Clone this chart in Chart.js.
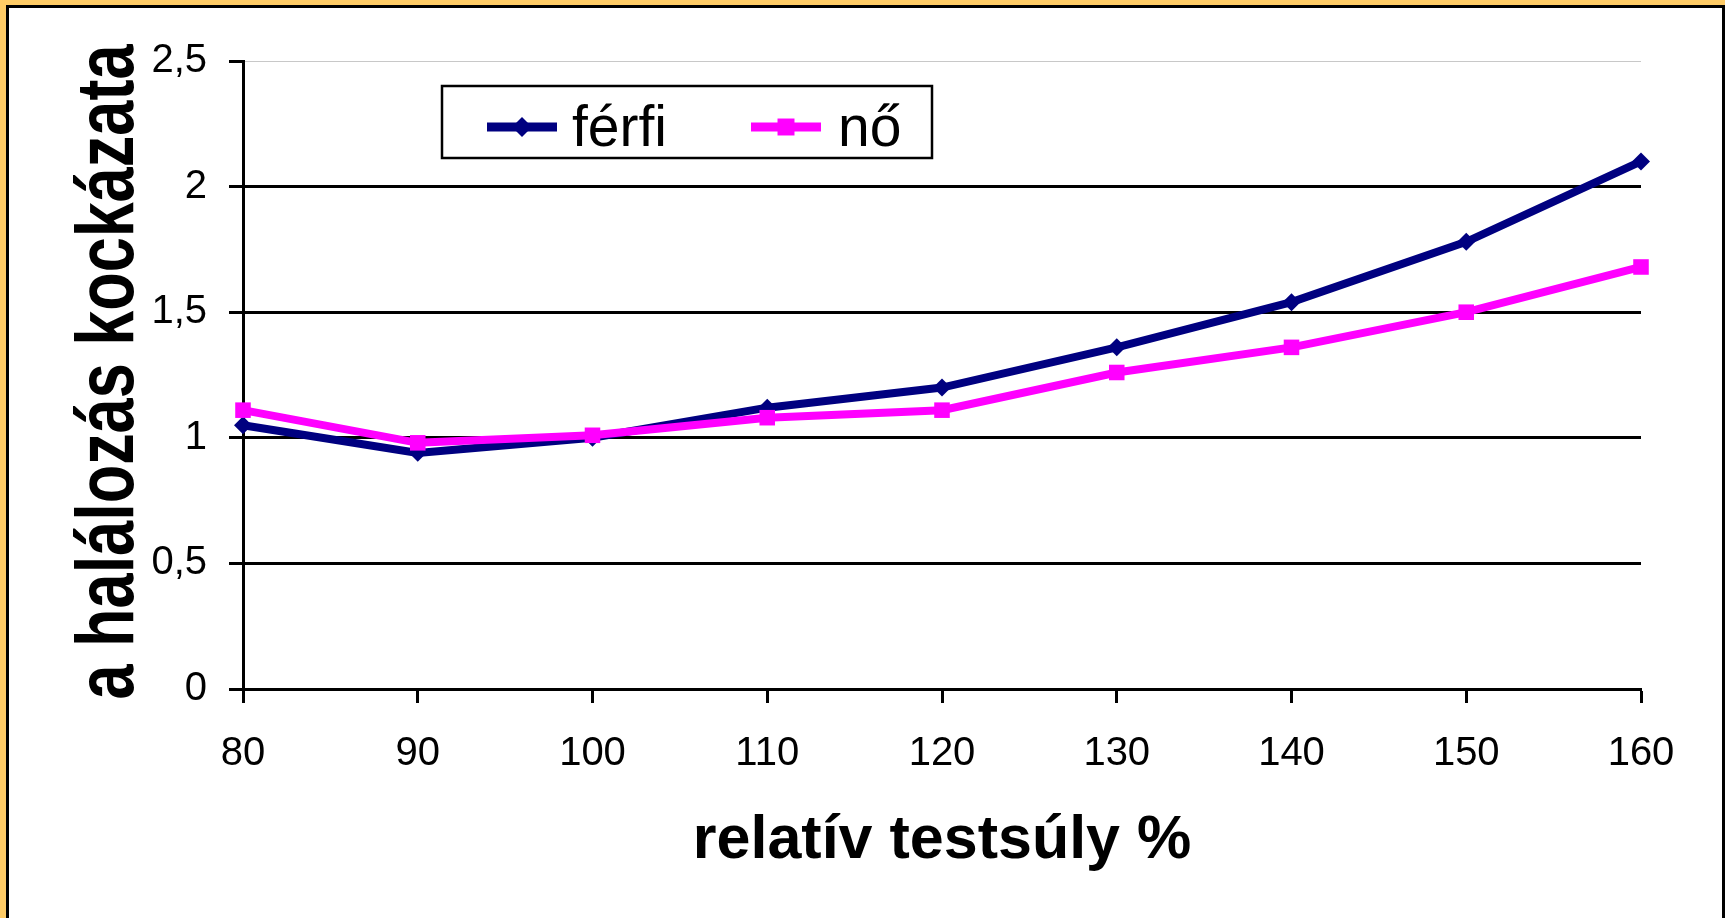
<!DOCTYPE html>
<html>
<head>
<meta charset="utf-8">
<script src="https://cdn.jsdelivr.net/npm/chart.js@4.4.1/dist/chart.umd.min.js"></script>
<style>
  html, body { margin: 0; padding: 0; background: #fff; }
  canvas { display: block; }
</style>
</head>
<body>
<canvas id="kockazatChart" width="1725" height="918"></canvas>
<script>
// Adatok
const testsuly = ['80', '90', '100', '110', '120', '130', '140', '150', '160'];
const ferfi = [1.05, 0.94, 1.00, 1.12, 1.20, 1.36, 1.54, 1.78, 2.10];
const no = [1.11, 0.98, 1.01, 1.08, 1.11, 1.26, 1.36, 1.50, 1.68];
const yTickLabels = ['0', '0,5', '1', '1,5', '2', '2,5'];
const seriesNames = ['férfi', 'nő'];
const yCim = 'a halálozás kockázata';

const FONT = "'Liberation Sans', Arial, sans-serif";

// Keret: sárga szegély, fekete vonal
const keretPlugin = {
    id: 'keret',
    beforeDraw(chart) {
        const ctx = chart.ctx;
        const w = chart.width, h = chart.height;
        ctx.save();
        ctx.fillStyle = '#FFCC66';
        ctx.fillRect(0, 0, w, h);
        ctx.fillStyle = '#000';
        ctx.fillRect(6, 5, w - 6, h - 5);
        ctx.fillStyle = '#fff';
        ctx.fillRect(9, 8, w - 12, h - 8);
        ctx.restore();
    }
};

// Függőleges tengelycím, az eredetihez hasonlóan nyújtott betűkkel
const yCimPlugin = {
    id: 'yCim',
    afterDraw(chart) {
        const ctx = chart.ctx;
        const a = chart.chartArea;
        ctx.save();
        ctx.translate(133, (a.top + a.bottom) / 2 - 3);
        ctx.rotate(-Math.PI / 2);
        ctx.scale(1, 1.3);
        ctx.font = 'bold 63px ' + FONT;
        ctx.fillStyle = '#000';
        ctx.textAlign = 'center';
        ctx.textBaseline = 'alphabetic';
        ctx.fillText(yCim, 0, 0);
        ctx.restore();
    }
};

// Jelmagyarázat a rajzterületen belül, vonallal és jelölővel
const jelmagyarazatPlugin = {
    id: 'jelmagyarazat',
    afterDraw(chart) {
        const ctx = chart.ctx;
        const a = chart.chartArea;
        const bx = a.left + 199, by = a.top + 25, bw = 490, bh = 72;
        ctx.save();
        ctx.fillStyle = '#fff';
        ctx.fillRect(bx, by, bw, bh);
        ctx.strokeStyle = '#000';
        ctx.lineWidth = 2.5;
        ctx.strokeRect(bx, by, bw, bh);

        const items = [
            { lineX: bx + 45, textX: bx + 130 },
            { lineX: bx + 309, textX: bx + 396 }
        ];
        chart.data.datasets.forEach((ds, i) => {
            const it = items[i];
            const cy = by + 41;
            ctx.strokeStyle = ds.borderColor;
            ctx.lineWidth = 9;
            ctx.beginPath();
            ctx.moveTo(it.lineX, cy);
            ctx.lineTo(it.lineX + 70, cy);
            ctx.stroke();
            ctx.fillStyle = ds.pointBackgroundColor;
            Chart.helpers.drawPoint(ctx, {
                pointStyle: ds.pointStyle,
                radius: ds.pointRadius + 1,
                rotation: 0,
                borderWidth: 0
            }, it.lineX + 35, cy);
            ctx.fillStyle = '#000';
            ctx.font = '57px ' + FONT;
            ctx.textBaseline = 'alphabetic';
            ctx.textAlign = 'left';
            ctx.fillText(ds.label, it.textX, by + 60);
        });
        ctx.restore();
    }
};

function renderChart() {
    const ctx = document.getElementById('kockazatChart').getContext('2d');

    new Chart(ctx, {
        type: 'line',
        data: {
            labels: testsuly,
            datasets: [{
                label: seriesNames[0],
                data: ferfi,
                borderColor: '#000080',
                backgroundColor: '#000080',
                borderWidth: 8,
                pointStyle: 'rectRot',
                pointRadius: 9,
                pointBackgroundColor: '#000080',
                pointBorderColor: '#000080',
                pointBorderWidth: 0,
                tension: 0,
                clip: false,
                order: 1
            }, {
                label: seriesNames[1],
                data: no,
                borderColor: '#FF00FF',
                backgroundColor: '#FF00FF',
                borderWidth: 8,
                pointStyle: 'rect',
                pointRadius: 11,
                pointBackgroundColor: '#FF00FF',
                pointBorderColor: '#FF00FF',
                pointBorderWidth: 0,
                tension: 0,
                clip: false,
                order: 0
            }]
        },
        options: {
            responsive: false,
            devicePixelRatio: 1,
            animation: false,
            layout: {
                padding: { left: 0, top: 61, right: 84, bottom: 0 }
            },
            plugins: {
                legend: { display: false },
                tooltip: { enabled: false }
            },
            scales: {
                x: {
                    type: 'category',
                    offset: false,
                    afterFit(scale) { scale.height = 229; },
                    border: { color: '#000', width: 3 },
                    grid: {
                        drawOnChartArea: false,
                        drawTicks: true,
                        tickLength: 14,
                        tickColor: '#000',
                        tickWidth: 3
                    },
                    ticks: {
                        color: '#000',
                        font: { family: FONT, size: 40 },
                        padding: 27,
                        maxRotation: 0,
                        autoSkip: false
                    },
                    title: {
                        display: true,
                        text: 'relatív testsúly %',
                        color: '#000',
                        font: { family: FONT, size: 61, weight: 'bold' },
                        padding: { top: 0, bottom: 40 }
                    }
                },
                y: {
                    min: 0,
                    max: 2.5,
                    afterFit(scale) { scale.width = 243; },
                    border: { color: '#000', width: 3 },
                    grid: {
                        color: (c) => (c.tick && c.tick.value === 2.5) ? '#c8c8c8' : '#000',
                        lineWidth: (c) => (c.tick && c.tick.value === 2.5) ? 1 : 3,
                        drawTicks: true,
                        tickLength: 14,
                        tickColor: '#000',
                        tickWidth: 3
                    },
                    ticks: {
                        stepSize: 0.5,
                        color: '#000',
                        font: { family: FONT, size: 40 },
                        padding: 22,
                        callback: (value, index) => yTickLabels[index]
                    },
                    title: { display: false }
                }
            }
        },
        plugins: [keretPlugin, jelmagyarazatPlugin, yCimPlugin]
    });
}

document.addEventListener('DOMContentLoaded', () => {
    renderChart();
});
</script>
</body>
</html>
